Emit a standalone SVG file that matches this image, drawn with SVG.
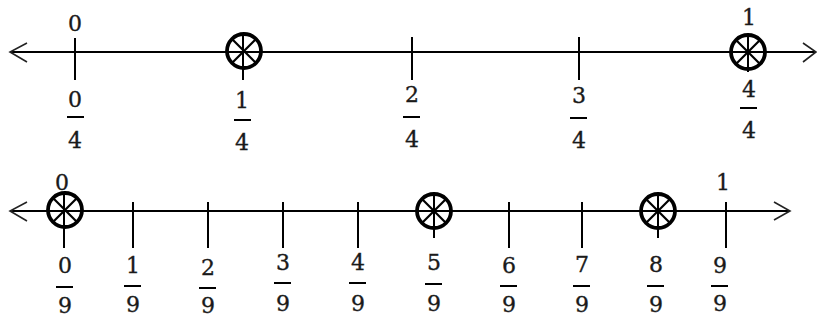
<svg xmlns="http://www.w3.org/2000/svg" width="817" height="320" viewBox="0 0 817 320">
<style>
.ax{stroke:#000;stroke-width:2.2;fill:none}
.arr{stroke:#222;stroke-width:1.6;fill:none}
.tk{stroke:#000;stroke-width:2;fill:none}
.bar{stroke:#000;stroke-width:2}
.mk{stroke:#000;stroke-width:3.8;fill:none}
.mx{stroke:#000;stroke-width:2.2;fill:none}
text{font-family:"DejaVu Serif","Liberation Serif",serif;font-size:22px;fill:#1a1a1a;stroke:#1a1a1a;stroke-width:0.35;text-anchor:middle}
</style>
<defs>
<g id="cross">
<circle r="17" class="mk"/>
<path class="mx" d="M-12,-12L12,12M12,-12L-12,12"/>
</g>
</defs>
<g id="connectors">
<g id="line-top">
<line class="ax" x1="10" y1="52" x2="816" y2="52"/>
<polyline class="arr" points="27,43 10,52 27,62"/>
<polyline class="arr" points="803,43 816,52 803,62"/>
</g>
<g id="line-bottom">
<line class="ax" x1="10" y1="211" x2="790" y2="211"/>
<polyline class="arr" points="27,202 10,211 27,221"/>
<polyline class="arr" points="774,202 790,211 774,220"/>
</g>
</g>
<g id="t-0-4">
<line class="tk" x1="75" y1="38" x2="75" y2="80"/>
<text x="75" y="31">0</text>
<text x="75" y="107">0</text><line class="bar" x1="67" y1="117" x2="84" y2="117"/><text x="75" y="148">4</text>
</g>
<g id="t-1-4">
<line class="tk" x1="243" y1="36" x2="243" y2="80"/>
<use href="#cross" x="244" y="51"/>
<text x="242" y="108">1</text><line class="bar" x1="234" y1="120" x2="251" y2="120"/><text x="242" y="150">4</text>
</g>
<g id="t-2-4">
<line class="tk" x1="412" y1="37" x2="412" y2="80"/>
<text x="412" y="102">2</text><line class="bar" x1="403" y1="117" x2="420" y2="117"/><text x="412" y="147">4</text>
</g>
<g id="t-3-4">
<line class="tk" x1="579" y1="37" x2="579" y2="80"/>
<text x="579" y="103">3</text><line class="bar" x1="570" y1="118" x2="587" y2="118"/><text x="579" y="148">4</text>
</g>
<g id="t-4-4">
<line class="tk" x1="748" y1="36" x2="748" y2="72"/>
<use href="#cross" x="748" y="52"/>
<text x="749" y="25">1</text>
<text x="749" y="97">4</text><line class="bar" x1="740" y1="108" x2="757" y2="108"/><text x="749" y="138">4</text>
</g>
<g id="b-0-9">
<line class="tk" x1="64" y1="194" x2="64" y2="248"/>
<use href="#cross" x="65" y="210"/>
<text x="62" y="190">0</text>
<text x="65" y="273">0</text><line class="bar" x1="56" y1="287" x2="73" y2="287"/><text x="65" y="313">9</text>
</g>
<g id="b-1-9">
<line class="tk" x1="133" y1="202" x2="133" y2="248"/>
<text x="133" y="273">1</text><line class="bar" x1="124" y1="286" x2="141" y2="286"/><text x="133" y="312">9</text>
</g>
<g id="b-2-9">
<line class="tk" x1="208" y1="202" x2="208" y2="248"/>
<text x="208" y="275">2</text><line class="bar" x1="199" y1="288" x2="216" y2="288"/><text x="208" y="313">9</text>
</g>
<g id="b-3-9">
<line class="tk" x1="283" y1="202" x2="283" y2="248"/>
<text x="283" y="270">3</text><line class="bar" x1="274" y1="283" x2="291" y2="283"/><text x="283" y="311">9</text>
</g>
<g id="b-4-9">
<line class="tk" x1="358" y1="202" x2="358" y2="248"/>
<text x="358" y="270">4</text><line class="bar" x1="349" y1="283" x2="366" y2="283"/><text x="358" y="311">9</text>
</g>
<g id="b-5-9">
<line class="tk" x1="434" y1="194" x2="434" y2="238"/>
<use href="#cross" x="434" y="211"/>
<text x="434" y="270">5</text><line class="bar" x1="425" y1="284" x2="442" y2="284"/><text x="434" y="311">9</text>
</g>
<g id="b-6-9">
<line class="tk" x1="509" y1="202" x2="509" y2="248"/>
<text x="509" y="273">6</text><line class="bar" x1="500" y1="286" x2="517" y2="286"/><text x="509" y="312">9</text>
</g>
<g id="b-7-9">
<line class="tk" x1="582" y1="202" x2="582" y2="248"/>
<text x="582" y="272">7</text><line class="bar" x1="573" y1="286" x2="590" y2="286"/><text x="582" y="312">9</text>
</g>
<g id="b-8-9">
<line class="tk" x1="658" y1="194" x2="658" y2="238"/>
<use href="#cross" x="658" y="211"/>
<text x="656" y="272">8</text><line class="bar" x1="647" y1="286" x2="664" y2="286"/><text x="656" y="312">9</text>
</g>
<g id="b-9-9">
<line class="tk" x1="726" y1="202" x2="726" y2="248"/>
<text x="723" y="190">1</text>
<text x="720" y="273">9</text><line class="bar" x1="711" y1="286" x2="728" y2="286"/><text x="720" y="311">9</text>
</g>
</svg>
